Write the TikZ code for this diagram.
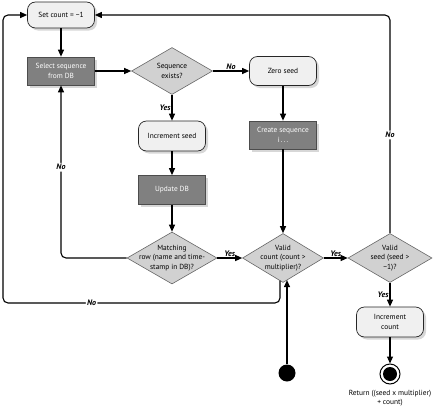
\documentclass[tikz,border=0pt]{standalone}
\usepackage{fontspec}
\setmainfont{PT Sans}
\usetikzlibrary{shapes.geometric,arrows.meta,shadows,calc}
\begin{document}
\begin{tikzpicture}[x=1pt,y=-1pt,
 every node/.style={font=\fontsize{7.4}{9.3}\selectfont, align=center},
 arr/.style={draw=black, line width=1.1pt, -{Triangle[length=7pt,width=6pt]}},
 shad/.style={drop shadow={shadow xshift=2.5pt,shadow yshift=-2.5pt,fill=black!35,opacity=0.45}},
 rbox/.style={shad, draw=black!85, fill=black!6, rounded corners=8pt, line width=0.7pt, minimum width=67pt, minimum height=29pt, inner sep=1pt},
 dbox/.style={shad, draw=black!70, fill=black!50, text=white, line width=0.7pt, minimum width=67pt, minimum height=28pt, inner sep=1pt},
 dia/.style={diamond, draw=black!60, fill=black!18, line width=0.6pt, inner sep=0pt},
 lab/.style={font=\fontsize{8}{9}\selectfont\bfseries\itshape, inner sep=1pt},
 blab/.style={lab, fill=white, inner sep=1.5pt}]
\useasboundingbox (0,0) rectangle (434,407);

\node[rbox, minimum height=26pt] (setc) at (61,15) {Set count = −1};
\node[dbox] (sel) at (61,71) {Select sequence\\from DB};
\node[dia, minimum width=81pt, minimum height=47pt, label={[align=center]center:Sequence\\exists?}] (seqex) at (172,71) {};
\node[rbox, minimum height=30pt] (incs) at (172,136) {Increment seed};
\node[dbox, minimum height=29pt] (upd) at (172,190) {Update DB};
\node[dia, minimum width=90pt, minimum height=52pt, label={[align=center]center:Matching\\row (name and time-\\stamp in DB)?}] (match) at (172,258) {};
\node[rbox] (zero) at (283,71) {Zero seed};
\node[dbox] (create) at (283,135) {Create sequence\\i\,.\,.\,.};
\node[dia, minimum width=81pt, minimum height=49pt, label={[align=center]center:Valid\\count (count >\\multiplier)?}] (vcount) at (283,258) {};
\node[dia, minimum width=84pt, minimum height=49pt, label={[align=center]center:Valid\\seed (seed >\\−1)?}] (vseed) at (390,258) {};
\node[rbox, minimum height=30pt] (incc) at (390,322) {Increment\\count};
\node[circle, draw, line width=1pt, minimum size=20pt, inner sep=0pt] (end) at (390,374) {};
\node[circle, fill=black, minimum size=14pt, inner sep=0pt] (endin) at (end) {};
\node[circle, fill=black, minimum size=17pt, inner sep=0pt] (start) at (287,373) {};
\node (ret) at (390,398) {Return ((seed x multiplier)\\+ count)};

\coordinate (vcin) at (287,280.1);
\coordinate (vcout) at (280,280.7);

\draw[arr] (setc) -- (sel);
\draw[arr] (sel) -- (seqex);
\draw[arr] (seqex) -- node[lab,above]{No} (zero);
\draw[arr] (seqex) -- node[lab,left]{Yes} (incs);
\draw[arr] (incs) -- (upd);
\draw[arr] (upd) -- (match);
\draw[arr] (match) -- node[lab,above]{Yes} (vcount);
\draw[arr, rounded corners=5pt] (match.west) -| node[blab, pos=0.763]{No} (sel.south);
\draw[arr] (zero) -- (create);
\draw[arr] (create) -- (vcount);
\draw[arr] (vcount) -- node[lab,above]{Yes} (vseed);
\draw[arr] (vseed) -- node[lab,left]{Yes} (incc);
\draw[arr] (incc) -- (end);
\draw[arr] (start) -- (vcin);
\draw[arr, rounded corners=5pt] (vcout) |- node[blab, pos=0.84]{No} (3,303) |- (setc.west);
\draw[arr, rounded corners=5pt] (vseed.north) |- node[blab, pos=0.225]{No} (setc.east);
\end{tikzpicture}
\end{document}
